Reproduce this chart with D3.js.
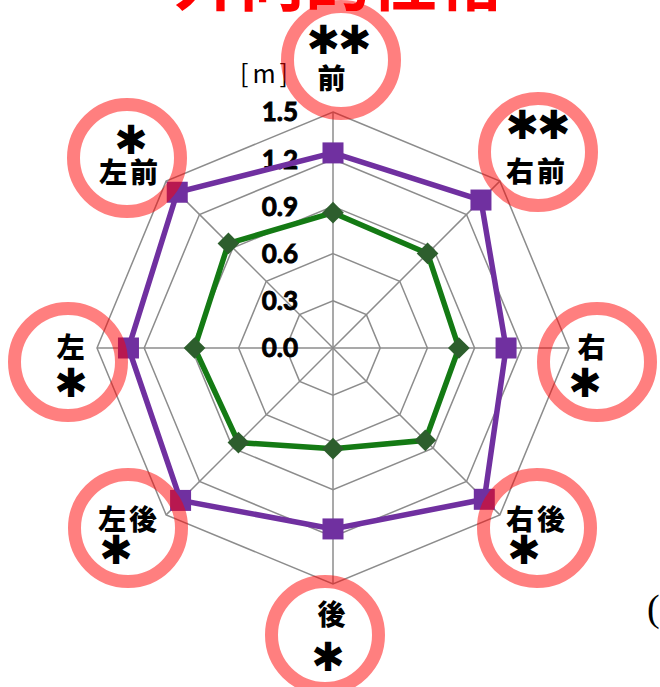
<!DOCTYPE html>
<html>
<head>
<meta charset="utf-8">
<script src="https://cdn.jsdelivr.net/npm/d3@7"></script>
<style>
  html, body { margin: 0; padding: 0; background: #fff; }
  svg { display: block; }
</style>
</head>
<body>
<svg id="chart" width="660" height="687"></svg>
<script>
// Directions, clockwise from the front
const axes = ["前", "右前", "右", "右後", "後", "左後", "左", "左前"];
// Significance marks per direction
const marks = ["**", "**", "*", "*", "*", "*", "*", "*"];
// Distance [m], outer series (purple squares)
const seriesPurple = [1.24, 1.33, 1.10, 1.36, 1.15, 1.37, 1.30, 1.40];
// Distance [m], inner series (green diamonds)
const seriesGreen = [0.86, 0.85, 0.80, 0.83, 0.64, 0.85, 0.88, 0.94];
// Radial tick values and their labels
const tickValues = [0.0, 0.3, 0.6, 0.9, 1.2, 1.5];
const tickLabels = ["0.0", "0.3", "0.6", "0.9", "1.2", "1.5"];
const unitLabel = "[m]";
const titleText = "外向的性格";

const svg = d3.select("#chart");
const cx = 333, cy = 348;

const r = d3.scaleLinear().domain([0, 1.5]).range([0, 236]);
// angle for index i: 0 at top, clockwise
const ang = i => (i / axes.length) * 2 * Math.PI;
const px = (i, v) => cx + r(v) * Math.sin(ang(i));
const py = (i, v) => cy - r(v) * Math.cos(ang(i));

const g = svg.append("g");

// Title (runs off the top edge)
svg.append("text")
  .attr("x", 338).attr("y", 5)
  .attr("text-anchor", "middle")
  .attr("font-family", "'Noto Sans CJK JP', sans-serif")
  .attr("font-weight", 700)
  .attr("font-size", 66)
  .attr("fill", "#ff0000")
  .text(titleText);

// Grid rings
const ringLine = d3.line().curve(d3.curveLinearClosed);
tickValues.filter(t => t > 0).forEach(t => {
  g.append("path")
    .attr("d", ringLine(axes.map((a, i) => [px(i, t), py(i, t)])))
    .attr("fill", "none")
    .attr("stroke", "#8c8c8c")
    .attr("stroke-width", 1.5);
});
// Spokes
axes.forEach((a, i) => {
  g.append("line")
    .attr("x1", cx).attr("y1", cy)
    .attr("x2", px(i, 1.5)).attr("y2", py(i, 1.5))
    .attr("stroke", "#8c8c8c")
    .attr("stroke-width", 1.5);
});

// Tick labels along the front spoke
g.selectAll(".tick")
  .data(tickValues)
  .enter().append("text")
  .attr("x", 298)
  .attr("y", d => cy - r(d))
  .attr("dy", "0.36em")
  .attr("text-anchor", "end")
  .attr("font-family", "Lato, sans-serif")
  .attr("font-weight", 700)
  .attr("font-size", 26)
  .attr("fill", "#000")
  .attr("stroke", "#000")
  .attr("stroke-width", 0.9)
  .text((d, i) => tickLabels[i]);

// Unit label
g.append("text")
  .attr("x", 266).attr("y", 74)
  .attr("dy", "0.35em")
  .attr("text-anchor", "middle")
  .attr("font-family", "'Noto Sans CJK JP', sans-serif")
  .attr("font-size", 25)
  .attr("letter-spacing", 4)
  .attr("fill", "#000")
  .text(unitLabel);

// Series lines
function drawSeries(values, color) {
  g.append("path")
    .attr("d", ringLine(values.map((v, i) => [px(i, v), py(i, v)])))
    .attr("fill", "none")
    .attr("stroke", color)
    .attr("stroke-width", 5.5)
    .attr("stroke-linejoin", "miter");
}
drawSeries(seriesGreen, "#147a14");
drawSeries(seriesPurple, "#7030a0");

// Markers
g.selectAll(".sq")
  .data(seriesPurple)
  .enter().append("rect")
  .attr("x", (d, i) => px(i, d) - 10.5)
  .attr("y", (d, i) => py(i, d) - 10.5)
  .attr("width", 21).attr("height", 21)
  .attr("fill", "#7030a0");

const diamond = d3.symbol().type(d3.symbolDiamond2).size(300);
g.selectAll(".dm")
  .data(seriesGreen)
  .enter().append("path")
  .attr("d", diamond)
  .attr("transform", (d, i) => `translate(${px(i, d)},${py(i, d)})`)
  .attr("fill", "#2d5e2d");

// Direction labels ringed with translucent red circles
const labelLayout = [
  { c: [341, 60],  name: [333, 79],  mark: [338, 40] },
  { c: [538, 152], name: [537, 172], mark: [537, 125] },
  { c: [597, 362], name: [593, 348], mark: [584, 383] },
  { c: [537, 528], name: [537, 520], mark: [523, 550] },
  { c: [325, 635], name: [333, 615], mark: [327, 657] },
  { c: [128, 528], name: [129, 520], mark: [115, 550] },
  { c: [68, 362],  name: [72, 348],  mark: [70, 383] },
  { c: [127, 158], name: [130, 173], mark: [130, 140] }
];

const lab = svg.append("g");
labelLayout.forEach((L, i) => {
  lab.append("circle")
    .attr("cx", L.c[0]).attr("cy", L.c[1])
    .attr("r", 53.5)
    .attr("fill", "none")
    .attr("stroke", "#ff0000")
    .attr("stroke-opacity", 0.5)
    .attr("stroke-width", 13);
  lab.append("text")
    .attr("x", L.name[0]).attr("y", L.name[1])
    .attr("dy", "0.36em")
    .attr("text-anchor", "middle")
    .attr("font-family", "'Noto Sans CJK JP', sans-serif")
    .attr("font-weight", 900)
    .attr("font-size", 28)
    .attr("letter-spacing", 3)
    .attr("fill", "#000")
    .text(axes[i]);
  lab.append("text")
    .attr("x", L.mark[0]).attr("y", L.mark[1])
    .attr("dy", "0.36em")
    .attr("text-anchor", "middle")
    .attr("font-family", "'DejaVu Sans', sans-serif")
    .attr("font-weight", 700)
    .attr("font-size", 40)
    .attr("letter-spacing", -2)
    .attr("fill", "#000")
    .text(marks[i].replace(/\*/g, "✱"));
});

// Partial note at the lower right edge
svg.append("text")
  .attr("x", 647).attr("y", 621)
  .attr("font-family", "'Liberation Serif', serif")
  .attr("font-size", 38)
  .attr("fill", "#000")
  .text("(");
</script>
</body>
</html>
